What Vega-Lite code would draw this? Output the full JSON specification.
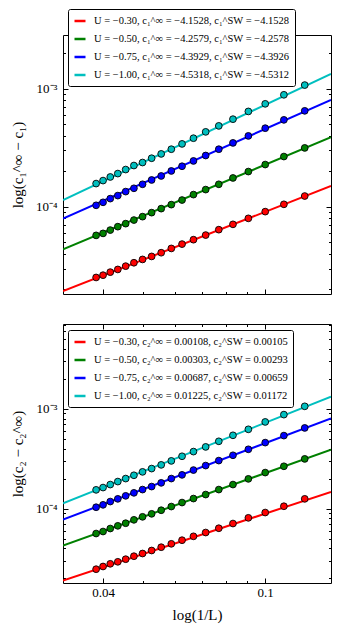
{
  "$schema": "https://vega.github.io/schema/vega-lite/v6.json",
  "padding": {"left": 9, "top": 8, "right": 2, "bottom": 2},
  "background": "white",
  "config": {
    "view": {"stroke": "black", "strokeWidth": 1},
    "font": "Liberation Serif",
    "axis": {
      "domain": false,
      "grid": false,
      "tickColor": "black",
      "tickWidth": 1,
      "labelColor": "black",
      "titleColor": "black",
      "labelFont": "Liberation Serif",
      "titleFont": "Liberation Serif",
      "labelFontSize": 13,
      "titleFontSize": 15,
      "titleFontWeight": "normal"
    },
    "legend": {
      "orient": "none",
      "fillColor": "white",
      "strokeColor": "black",
      "strokeWidth": 1,
      "cornerRadius": 2,
      "padding": 5,
      "rowPadding": 5,
      "symbolType": "stroke",
      "symbolStrokeWidth": 2.5,
      "symbolSize": 121,
      "labelFont": "Liberation Serif",
      "labelFontSize": 10.5,
      "labelColor": "black",
      "labelLimit": 400,
      "labelOffset": 7
    }
  },
  "datasets": {
    "p1": [
      {"U": "-0.30", "x": 0.038462, "y": 2.527e-5},
      {"U": "-0.30", "x": 0.04, "y": 2.642e-5},
      {"U": "-0.30", "x": 0.041667, "y": 2.803e-5},
      {"U": "-0.30", "x": 0.043478, "y": 2.954e-5},
      {"U": "-0.30", "x": 0.045455, "y": 3.150e-5},
      {"U": "-0.30", "x": 0.047619, "y": 3.365e-5},
      {"U": "-0.30", "x": 0.05, "y": 3.590e-5},
      {"U": "-0.30", "x": 0.052632, "y": 3.806e-5},
      {"U": "-0.30", "x": 0.055556, "y": 4.091e-5},
      {"U": "-0.30", "x": 0.058824, "y": 4.448e-5},
      {"U": "-0.30", "x": 0.0625, "y": 4.838e-5},
      {"U": "-0.30", "x": 0.066667, "y": 5.272e-5},
      {"U": "-0.30", "x": 0.071429, "y": 5.768e-5},
      {"U": "-0.30", "x": 0.076923, "y": 6.409e-5},
      {"U": "-0.30", "x": 0.083333, "y": 7.108e-5},
      {"U": "-0.30", "x": 0.090909, "y": 7.990e-5},
      {"U": "-0.30", "x": 0.1, "y": 9.106e-5},
      {"U": "-0.30", "x": 0.111111, "y": 1.050e-4},
      {"U": "-0.30", "x": 0.125, "y": 1.234e-4},
      {"U": "-0.50", "x": 0.038462, "y": 5.734e-5},
      {"U": "-0.50", "x": 0.04, "y": 5.962e-5},
      {"U": "-0.50", "x": 0.041667, "y": 6.358e-5},
      {"U": "-0.50", "x": 0.043478, "y": 6.795e-5},
      {"U": "-0.50", "x": 0.045455, "y": 7.207e-5},
      {"U": "-0.50", "x": 0.047619, "y": 7.728e-5},
      {"U": "-0.50", "x": 0.05, "y": 8.258e-5},
      {"U": "-0.50", "x": 0.052632, "y": 8.929e-5},
      {"U": "-0.50", "x": 0.055556, "y": 9.654e-5},
      {"U": "-0.50", "x": 0.058824, "y": 1.0438e-4},
      {"U": "-0.50", "x": 0.0625, "y": 1.1418e-4},
      {"U": "-0.50", "x": 0.066667, "y": 1.2689e-4},
      {"U": "-0.50", "x": 0.071429, "y": 1.3989e-4},
      {"U": "-0.50", "x": 0.076923, "y": 1.5509e-4},
      {"U": "-0.50", "x": 0.083333, "y": 1.7543e-4},
      {"U": "-0.50", "x": 0.090909, "y": 1.9875e-4},
      {"U": "-0.50", "x": 0.1, "y": 2.2782e-4},
      {"U": "-0.50", "x": 0.111111, "y": 2.6625e-4},
      {"U": "-0.50", "x": 0.125, "y": 3.1502e-4},
      {"U": "-0.75", "x": 0.038462, "y": 1.0297e-4},
      {"U": "-0.75", "x": 0.04, "y": 1.0917e-4},
      {"U": "-0.75", "x": 0.041667, "y": 1.1734e-4},
      {"U": "-0.75", "x": 0.043478, "y": 1.2444e-4},
      {"U": "-0.75", "x": 0.045455, "y": 1.3453e-4},
      {"U": "-0.75", "x": 0.047619, "y": 1.4349e-4},
      {"U": "-0.75", "x": 0.05, "y": 1.5509e-4},
      {"U": "-0.75", "x": 0.052632, "y": 1.6869e-4},
      {"U": "-0.75", "x": 0.055556, "y": 1.8239e-4},
      {"U": "-0.75", "x": 0.058824, "y": 2.0112e-4},
      {"U": "-0.75", "x": 0.0625, "y": 2.2039e-4},
      {"U": "-0.75", "x": 0.066667, "y": 2.4443e-4},
      {"U": "-0.75", "x": 0.071429, "y": 2.7164e-4},
      {"U": "-0.75", "x": 0.076923, "y": 3.0712e-4},
      {"U": "-0.75", "x": 0.083333, "y": 3.4730e-4},
      {"U": "-0.75", "x": 0.090909, "y": 3.9811e-4},
      {"U": "-0.75", "x": 0.1, "y": 4.6266e-4},
      {"U": "-0.75", "x": 0.111111, "y": 5.4387e-4},
      {"U": "-0.75", "x": 0.125, "y": 6.4849e-4},
      {"U": "-1.00", "x": 0.038462, "y": 1.5727e-4},
      {"U": "-1.00", "x": 0.04, "y": 1.6672e-4},
      {"U": "-1.00", "x": 0.041667, "y": 1.7886e-4},
      {"U": "-1.00", "x": 0.043478, "y": 1.9112e-4},
      {"U": "-1.00", "x": 0.045455, "y": 2.0670e-4},
      {"U": "-1.00", "x": 0.047619, "y": 2.2354e-4},
      {"U": "-1.00", "x": 0.05, "y": 2.3697e-4},
      {"U": "-1.00", "x": 0.052632, "y": 2.5763e-4},
      {"U": "-1.00", "x": 0.055556, "y": 2.8030e-4},
      {"U": "-1.00", "x": 0.058824, "y": 3.0712e-4},
      {"U": "-1.00", "x": 0.0625, "y": 3.4061e-4},
      {"U": "-1.00", "x": 0.066667, "y": 3.8062e-4},
      {"U": "-1.00", "x": 0.071429, "y": 4.3053e-4},
      {"U": "-1.00", "x": 0.076923, "y": 4.8374e-4},
      {"U": "-1.00", "x": 0.083333, "y": 5.5135e-4},
      {"U": "-1.00", "x": 0.090909, "y": 6.4109e-4},
      {"U": "-1.00", "x": 0.1, "y": 7.4319e-4},
      {"U": "-1.00", "x": 0.111111, "y": 8.8613e-4},
      {"U": "-1.00", "x": 0.125, "y": 1.0708e-3}
    ],
    "f1": [
      {"U": "-0.30", "x": 0.0319, "y": 1.934e-5},
      {"U": "-0.30", "x": 0.145, "y": 1.5003e-4},
      {"U": "-0.50", "x": 0.0319, "y": 4.363e-5},
      {"U": "-0.50", "x": 0.145, "y": 3.882e-4},
      {"U": "-0.75", "x": 0.0319, "y": 7.943e-5},
      {"U": "-0.75", "x": 0.145, "y": 8.036e-4},
      {"U": "-1.00", "x": 0.0319, "y": 1.1419e-4},
      {"U": "-1.00", "x": 0.145, "y": 1.3345e-3}
    ],
    "p2": [
      {"U": "-0.30", "x": 0.038462, "y": 2.470e-5},
      {"U": "-0.30", "x": 0.04, "y": 2.629e-5},
      {"U": "-0.30", "x": 0.041667, "y": 2.798e-5},
      {"U": "-0.30", "x": 0.043478, "y": 2.930e-5},
      {"U": "-0.30", "x": 0.045455, "y": 3.112e-5},
      {"U": "-0.30", "x": 0.047619, "y": 3.334e-5},
      {"U": "-0.30", "x": 0.05, "y": 3.549e-5},
      {"U": "-0.30", "x": 0.052632, "y": 3.803e-5},
      {"U": "-0.30", "x": 0.055556, "y": 4.104e-5},
      {"U": "-0.30", "x": 0.058824, "y": 4.438e-5},
      {"U": "-0.30", "x": 0.0625, "y": 4.825e-5},
      {"U": "-0.30", "x": 0.066667, "y": 5.277e-5},
      {"U": "-0.30", "x": 0.071429, "y": 5.761e-5},
      {"U": "-0.30", "x": 0.076923, "y": 6.361e-5},
      {"U": "-0.30", "x": 0.083333, "y": 7.091e-5},
      {"U": "-0.30", "x": 0.090909, "y": 8.088e-5},
      {"U": "-0.30", "x": 0.1, "y": 9.140e-5},
      {"U": "-0.30", "x": 0.111111, "y": 1.0568e-4},
      {"U": "-0.30", "x": 0.125, "y": 1.2537e-4},
      {"U": "-0.50", "x": 0.038462, "y": 5.629e-5},
      {"U": "-0.50", "x": 0.04, "y": 5.895e-5},
      {"U": "-0.50", "x": 0.041667, "y": 6.318e-5},
      {"U": "-0.50", "x": 0.043478, "y": 6.724e-5},
      {"U": "-0.50", "x": 0.045455, "y": 7.141e-5},
      {"U": "-0.50", "x": 0.047619, "y": 7.722e-5},
      {"U": "-0.50", "x": 0.05, "y": 8.276e-5},
      {"U": "-0.50", "x": 0.052632, "y": 8.869e-5},
      {"U": "-0.50", "x": 0.055556, "y": 9.638e-5},
      {"U": "-0.50", "x": 0.058824, "y": 1.0495e-4},
      {"U": "-0.50", "x": 0.0625, "y": 1.1511e-4},
      {"U": "-0.50", "x": 0.066667, "y": 1.2623e-4},
      {"U": "-0.50", "x": 0.071429, "y": 1.3844e-4},
      {"U": "-0.50", "x": 0.076923, "y": 1.5534e-4},
      {"U": "-0.50", "x": 0.083333, "y": 1.7439e-4},
      {"U": "-0.50", "x": 0.090909, "y": 1.9889e-4},
      {"U": "-0.50", "x": 0.1, "y": 2.2998e-4},
      {"U": "-0.50", "x": 0.111111, "y": 2.6596e-4},
      {"U": "-0.50", "x": 0.125, "y": 3.1550e-4},
      {"U": "-0.75", "x": 0.038462, "y": 1.0328e-4},
      {"U": "-0.75", "x": 0.04, "y": 1.0917e-4},
      {"U": "-0.75", "x": 0.041667, "y": 1.1778e-4},
      {"U": "-0.75", "x": 0.043478, "y": 1.2537e-4},
      {"U": "-0.75", "x": 0.045455, "y": 1.3438e-4},
      {"U": "-0.75", "x": 0.047619, "y": 1.4398e-4},
      {"U": "-0.75", "x": 0.05, "y": 1.5534e-4},
      {"U": "-0.75", "x": 0.052632, "y": 1.6646e-4},
      {"U": "-0.75", "x": 0.055556, "y": 1.8134e-4},
      {"U": "-0.75", "x": 0.058824, "y": 2.0024e-4},
      {"U": "-0.75", "x": 0.0625, "y": 2.1813e-4},
      {"U": "-0.75", "x": 0.066667, "y": 2.4370e-4},
      {"U": "-0.75", "x": 0.071429, "y": 2.7040e-4},
      {"U": "-0.75", "x": 0.076923, "y": 3.0339e-4},
      {"U": "-0.75", "x": 0.083333, "y": 3.4285e-4},
      {"U": "-0.75", "x": 0.090909, "y": 3.9367e-4},
      {"U": "-0.75", "x": 0.1, "y": 4.5950e-4},
      {"U": "-0.75", "x": 0.111111, "y": 5.4014e-4},
      {"U": "-0.75", "x": 0.125, "y": 6.4491e-4},
      {"U": "-1.00", "x": 0.038462, "y": 1.5433e-4},
      {"U": "-1.00", "x": 0.04, "y": 1.6271e-4},
      {"U": "-1.00", "x": 0.041667, "y": 1.7439e-4},
      {"U": "-1.00", "x": 0.043478, "y": 1.8684e-4},
      {"U": "-1.00", "x": 0.045455, "y": 2.0024e-4},
      {"U": "-1.00", "x": 0.047619, "y": 2.1613e-4},
      {"U": "-1.00", "x": 0.05, "y": 2.3374e-4},
      {"U": "-1.00", "x": 0.052632, "y": 2.5222e-4},
      {"U": "-1.00", "x": 0.055556, "y": 2.7477e-4},
      {"U": "-1.00", "x": 0.058824, "y": 3.0130e-4},
      {"U": "-1.00", "x": 0.0625, "y": 3.3505e-4},
      {"U": "-1.00", "x": 0.066667, "y": 3.7334e-4},
      {"U": "-1.00", "x": 0.071429, "y": 4.1616e-4},
      {"U": "-1.00", "x": 0.076923, "y": 4.7352e-4},
      {"U": "-1.00", "x": 0.083333, "y": 5.4387e-4},
      {"U": "-1.00", "x": 0.090909, "y": 6.2447e-4},
      {"U": "-1.00", "x": 0.1, "y": 7.4063e-4},
      {"U": "-1.00", "x": 0.111111, "y": 8.7700e-4},
      {"U": "-1.00", "x": 0.125, "y": 1.0619e-3}
    ],
    "f2": [
      {"U": "-0.30", "x": 0.0319, "y": 1.904e-5},
      {"U": "-0.30", "x": 0.145, "y": 1.4730e-4},
      {"U": "-0.50", "x": 0.0319, "y": 4.269e-5},
      {"U": "-0.50", "x": 0.145, "y": 3.9102e-4},
      {"U": "-0.75", "x": 0.0319, "y": 7.776e-5},
      {"U": "-0.75", "x": 0.145, "y": 8.051e-4},
      {"U": "-1.00", "x": 0.0319, "y": 1.1327e-4},
      {"U": "-1.00", "x": 0.145, "y": 1.3277e-3}
    ]
  },
  "spacing": 28,
  "resolve": {
    "scale": {"color": "independent", "fill": "independent", "x": "independent", "y": "independent"},
    "legend": {"color": "independent", "fill": "independent"}
  },
  "vconcat": [
    {
      "width": 268,
      "height": 259,
      "resolve": {"axis": {"x": "independent", "y": "independent"}},
      "layer": [
        {
          "data": {"name": "f1"},
          "mark": {"type": "line", "strokeWidth": 2, "clip": true},
          "encoding": {
            "x": {"field": "x", "type": "quantitative",
              "scale": {"type": "log", "domain": [0.0319, 0.145], "nice": false},
              "axis": {"orient": "bottom", "title": null, "labels": false,
                "values": [0.04, 0.05, 0.06, 0.07, 0.08, 0.09, 0.1],
                "tickSize": {"condition": {"test": "datum.value == 0.04 || datum.value == 0.1", "value": -5}, "value": -2.5}}},
            "y": {"field": "y", "type": "quantitative",
              "scale": {"type": "log", "domain": [1.831e-5, 2.84e-3], "nice": false},
              "axis": {"orient": "left", "title": "log(c₁^∞ − c₁)", "titlePadding": 10, "labelPadding": 11,
                "values": [2e-5, 3e-5, 4e-5, 5e-5, 6e-5, 7e-5, 8e-5, 9e-5, 0.0001, 2e-4, 3e-4, 4e-4, 5e-4, 6e-4, 7e-4, 8e-4, 9e-4, 0.001, 0.002],
                "labelExpr": "datum.value == 0.001 ? '10⁻³' : datum.value == 0.0001 ? '10⁻⁴' : ''",
                "tickSize": {"condition": {"test": "datum.value == 0.0001 || datum.value == 0.001", "value": -5}, "value": -2.5}}},
            "color": {"field": "U", "type": "nominal",
              "scale": {"domain": ["-0.30", "-0.50", "-0.75", "-1.00"], "range": ["#ff0000", "#008000", "#0000ff", "#00bfbf"]},
              "legend": {"title": null, "legendX": 5, "legendY": -26,
                "labelExpr": "datum.label == '-0.30' ? 'U = −0.30, c₁^∞ = −4.1528, c₁^SW = −4.1528' : datum.label == '-0.50' ? 'U = −0.50, c₁^∞ = −4.2579, c₁^SW = −4.2578' : datum.label == '-0.75' ? 'U = −0.75, c₁^∞ = −4.3929, c₁^SW = −4.3926' : 'U = −1.00, c₁^∞ = −4.5318, c₁^SW = −4.5312'"}}
          }
        },
        {
          "data": {"name": "p1"},
          "mark": {"type": "circle", "size": 46, "stroke": "black", "strokeWidth": 0.9, "opacity": 1},
          "encoding": {
            "x": {"field": "x", "type": "quantitative",
              "axis": {"orient": "top", "title": null, "labels": false,
                "values": [0.04, 0.05, 0.06, 0.07, 0.08, 0.09, 0.1],
                "tickSize": {"condition": {"test": "datum.value == 0.04 || datum.value == 0.1", "value": -5}, "value": -2.5}}},
            "y": {"field": "y", "type": "quantitative",
              "axis": {"orient": "right", "title": null, "labels": false,
                "values": [2e-5, 3e-5, 4e-5, 5e-5, 6e-5, 7e-5, 8e-5, 9e-5, 0.0001, 2e-4, 3e-4, 4e-4, 5e-4, 6e-4, 7e-4, 8e-4, 9e-4, 0.001, 0.002],
                "tickSize": {"condition": {"test": "datum.value == 0.0001 || datum.value == 0.001", "value": -5}, "value": -2.5}}},
            "fill": {"field": "U", "type": "nominal",
              "scale": {"domain": ["-0.30", "-0.50", "-0.75", "-1.00"], "range": ["#ff0000", "#008000", "#0000ff", "#00bfbf"]},
              "legend": null}
          }
        }
      ]
    },
    {
      "width": 268,
      "height": 259,
      "resolve": {"axis": {"x": "independent", "y": "independent"}},
      "layer": [
        {
          "data": {"name": "f2"},
          "mark": {"type": "line", "strokeWidth": 2, "clip": true},
          "encoding": {
            "x": {"field": "x", "type": "quantitative",
              "scale": {"type": "log", "domain": [0.0319, 0.145], "nice": false},
              "axis": {"orient": "bottom", "title": "log(1/L)", "titlePadding": 8, "labelPadding": 8,
                "values": [0.04, 0.05, 0.06, 0.07, 0.08, 0.09, 0.1],
                "labelExpr": "datum.value == 0.04 ? '0.04' : datum.value == 0.1 ? '0.1' : ''",
                "tickSize": {"condition": {"test": "datum.value == 0.04 || datum.value == 0.1", "value": -5}, "value": -2.5}}},
            "y": {"field": "y", "type": "quantitative",
              "scale": {"type": "log", "domain": [1.796e-5, 7.107e-3], "nice": false},
              "axis": {"orient": "left", "title": "log(c₂ − c₂^∞)", "titlePadding": 10, "labelPadding": 11,
                "values": [2e-5, 3e-5, 4e-5, 5e-5, 6e-5, 7e-5, 8e-5, 9e-5, 0.0001, 2e-4, 3e-4, 4e-4, 5e-4, 6e-4, 7e-4, 8e-4, 9e-4, 0.001, 0.002, 0.003, 0.004, 0.005, 0.006, 0.007],
                "labelExpr": "datum.value == 0.001 ? '10⁻³' : datum.value == 0.0001 ? '10⁻⁴' : ''",
                "tickSize": {"condition": {"test": "datum.value == 0.0001 || datum.value == 0.001", "value": -5}, "value": -2.5}}},
            "color": {"field": "U", "type": "nominal",
              "scale": {"domain": ["-0.30", "-0.50", "-0.75", "-1.00"], "range": ["#ff0000", "#008000", "#0000ff", "#00bfbf"]},
              "legend": {"title": null, "legendX": 5, "legendY": 6,
                "labelExpr": "datum.label == '-0.30' ? 'U = −0.30, c₂^∞ = 0.00108, c₂^SW = 0.00105' : datum.label == '-0.50' ? 'U = −0.50, c₂^∞ = 0.00303, c₂^SW = 0.00293' : datum.label == '-0.75' ? 'U = −0.75, c₂^∞ = 0.00687, c₂^SW = 0.00659' : 'U = −1.00, c₂^∞ = 0.01225, c₂^SW = 0.01172'"}}
          }
        },
        {
          "data": {"name": "p2"},
          "mark": {"type": "circle", "size": 46, "stroke": "black", "strokeWidth": 0.9, "opacity": 1},
          "encoding": {
            "x": {"field": "x", "type": "quantitative",
              "axis": {"orient": "top", "title": null, "labels": false,
                "values": [0.04, 0.05, 0.06, 0.07, 0.08, 0.09, 0.1],
                "tickSize": {"condition": {"test": "datum.value == 0.04 || datum.value == 0.1", "value": -5}, "value": -2.5}}},
            "y": {"field": "y", "type": "quantitative",
              "axis": {"orient": "right", "title": null, "labels": false,
                "values": [2e-5, 3e-5, 4e-5, 5e-5, 6e-5, 7e-5, 8e-5, 9e-5, 0.0001, 2e-4, 3e-4, 4e-4, 5e-4, 6e-4, 7e-4, 8e-4, 9e-4, 0.001, 0.002, 0.003, 0.004, 0.005, 0.006, 0.007],
                "tickSize": {"condition": {"test": "datum.value == 0.0001 || datum.value == 0.001", "value": -5}, "value": -2.5}}},
            "fill": {"field": "U", "type": "nominal",
              "scale": {"domain": ["-0.30", "-0.50", "-0.75", "-1.00"], "range": ["#ff0000", "#008000", "#0000ff", "#00bfbf"]},
              "legend": null}
          }
        }
      ]
    }
  ]
}
